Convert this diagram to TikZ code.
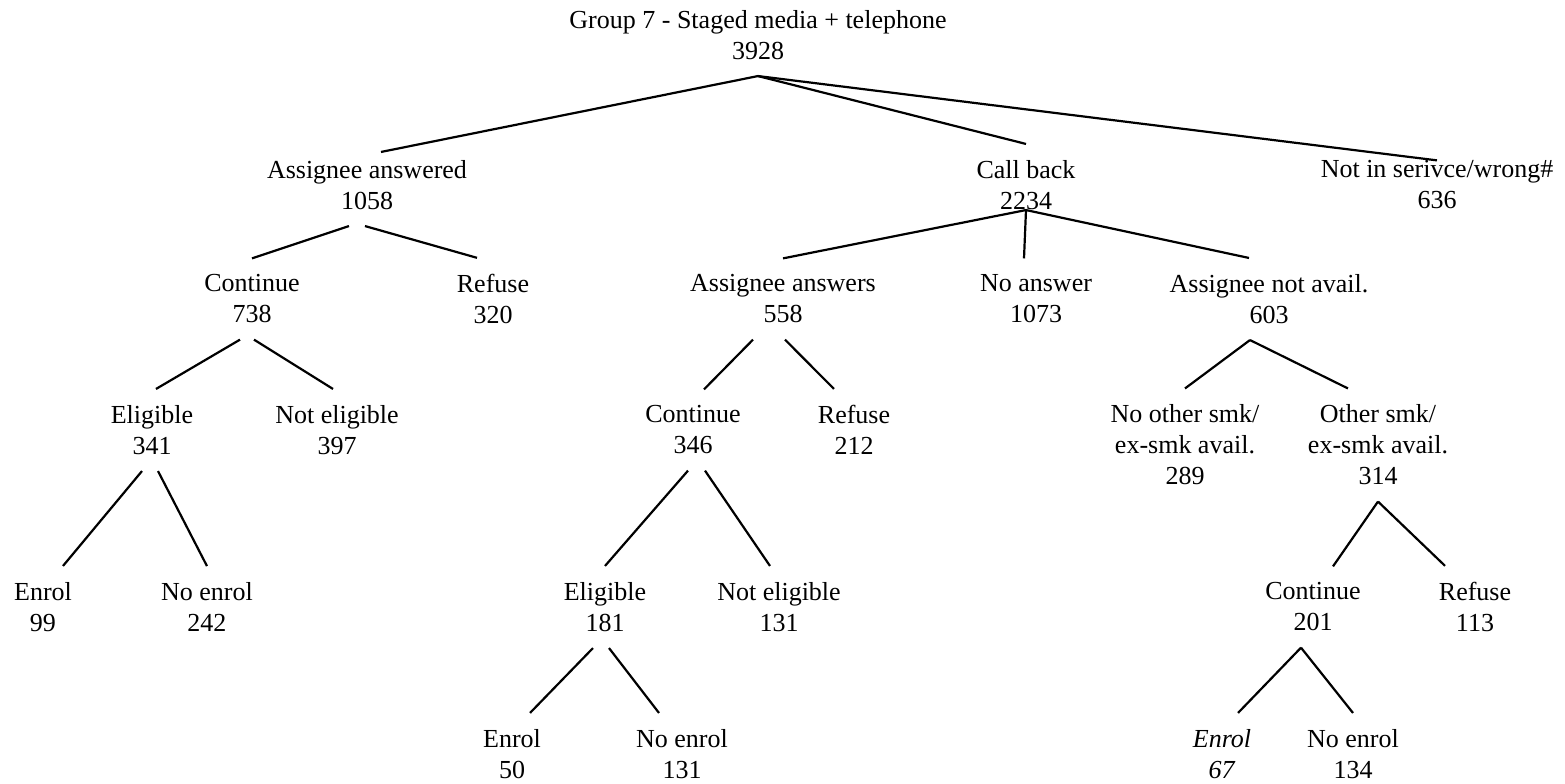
\documentclass[tikz,border=0pt]{standalone}
\usepackage{fontspec}
\setmainfont{Liberation Serif}
\begin{document}
\begin{tikzpicture}[x=0.5pt,y=-0.5pt,
    lbl/.style={align=center, inner xsep=0pt, inner ysep=8pt,
      font=\fontsize{13pt}{15.5pt}\selectfont},
    branch/.style={line width=1.1pt}]
    \useasboundingbox (0,0) rectangle (1565,783);

    % Raiz
    \node[lbl] (root) at (758,35) {Group 7 - Staged media + telephone\\3928};

    % Nivel 1
    \node[lbl] (aa)  at (367,185)  {Assignee answered\\1058};
    \node[lbl] (cb)  at (1026,185) {Call back\\2234};
    \node[lbl] (nis) at (1437,185) {Not in serivce/wrong\#\\636};

    % Nivel 2
    \node[lbl] (con1) at (252,299)  {Continue\\738};
    \node[lbl] (ref1) at (493,299)  {Refuse\\320};
    \node[lbl] (aas)  at (783,299)  {Assignee answers\\558};
    \node[lbl] (noa)  at (1036,299) {No answer\\1073};
    \node[lbl] (ana)  at (1269,299) {Assignee not avail.\\603};

    % Nivel 3
    \node[lbl] (eli1) at (152,430)  {Eligible\\341};
    \node[lbl] (nel1) at (337,430)  {Not eligible\\397};
    \node[lbl] (con2) at (693,430)  {Continue\\346};
    \node[lbl] (ref2) at (854,430)  {Refuse\\212};
    \node[lbl] (nos)  at (1185,445) {No other smk/\\ex-smk avail.\\289};
    \node[lbl] (oth)  at (1378,445) {Other smk/\\ex-smk avail.\\314};

    % Nivel 4
    \node[lbl] (enr1) at (43,607)   {Enrol\\99};
    \node[lbl] (noe1) at (207,607)  {No enrol\\242};
    \node[lbl] (eli2) at (605,607)  {Eligible\\181};
    \node[lbl] (nel2) at (779,607)  {Not eligible\\131};
    \node[lbl] (con3) at (1313,607) {Continue\\201};
    \node[lbl] (ref3) at (1475,607) {Refuse\\113};

    % Nivel 5
    \node[lbl] (enr2) at (512,754)  {Enrol\\50};
    \node[lbl] (noe2) at (682,754)  {No enrol\\131};
    \node[lbl] (enr3) at (1222,754) {\textit{Enrol}\\\textit{67}};
    \node[lbl] (noe3) at (1353,754) {No enrol\\134};

    % Ramas
    \draw[branch] (root.south) -- ([xshift=7pt,yshift=-4pt]aa.north);
    \draw[branch] (root.south) -- (cb.north);
    \draw[branch] (root.south) -- ([yshift=-8pt]nis.north);

    \draw[branch] ([xshift=-9pt]aa.south) -- (con1.north);
    \draw[branch] ([xshift=-1pt]aa.south) -- ([xshift=-8pt]ref1.north);

    \draw[branch] ([yshift=8pt]cb.south) -- (aas.north);
    \draw[branch] ([yshift=8pt]cb.south) -- ([xshift=-6pt]noa.north);
    \draw[branch] ([yshift=8pt]cb.south) -- ([xshift=-10pt]ana.north);

    \draw[branch] ([xshift=-6pt]con1.south) -- ([xshift=2pt]eli1.north);
    \draw[branch] ([xshift=1pt]con1.south) -- ([xshift=-2pt]nel1.north);

    \draw[branch] ([xshift=-15pt]aas.south) -- ([xshift=5.5pt]con2.north);
    \draw[branch] ([xshift=1pt]aas.south) -- ([xshift=-10pt]ref2.north);

    \draw[branch] ([xshift=-9.5pt]ana.south) -- (nos.north);
    \draw[branch] ([xshift=-9.5pt]ana.south) -- ([xshift=-15pt]oth.north);

    \draw[branch] ([xshift=-5pt]eli1.south) -- ([xshift=10pt]enr1.north);
    \draw[branch] ([xshift=3pt]eli1.south) -- (noe1.north);

    \draw[branch] ([xshift=-2.5pt]con2.south) -- (eli2.north);
    \draw[branch] ([xshift=6pt]con2.south) -- ([xshift=-4.5pt]nel2.north);

    \draw[branch] (oth.south) -- ([xshift=10pt]con3.north);
    \draw[branch] (oth.south) -- ([xshift=-15pt]ref3.north);

    \draw[branch] ([xshift=-6pt]eli2.south) -- ([xshift=9pt]enr2.north);
    \draw[branch] ([xshift=2pt]eli2.south) -- ([xshift=-11.5pt]noe2.north);

    \draw[branch] ([xshift=-6pt]con3.south) -- ([xshift=8pt]enr3.north);
    \draw[branch] ([xshift=-6pt]con3.south) -- (noe3.north);
\end{tikzpicture}
\end{document}
